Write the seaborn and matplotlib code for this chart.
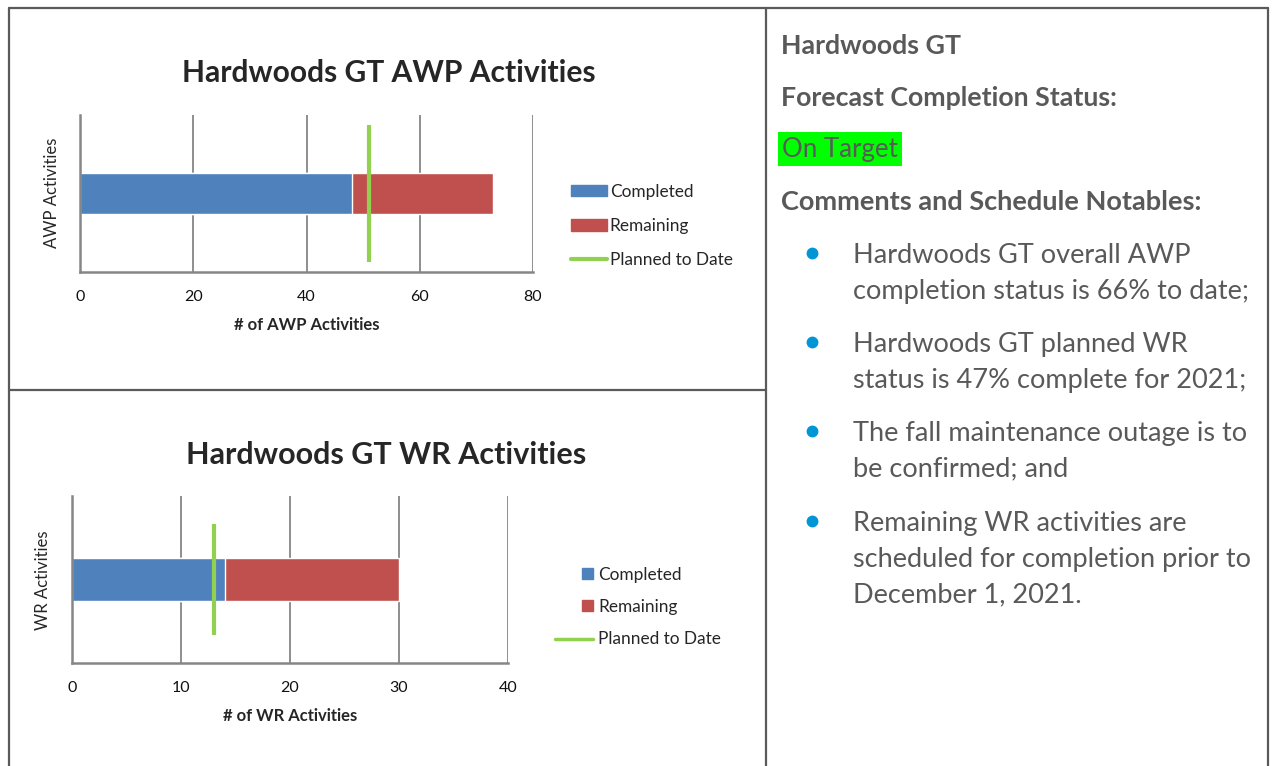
import pandas as pd
import matplotlib
matplotlib.use('Agg')
import matplotlib.pyplot as plt
import seaborn as sns
from matplotlib.lines import Line2D
from matplotlib.patches import Patch, Rectangle
from matplotlib.legend_handler import HandlerPatch

# 数据
awp_category = ['AWP Activities']
awp_completed = [48]
awp_remaining = [25]
awp_planned = [51]

wr_category = ['WR Activities']
wr_completed = [14]
wr_remaining = [16]
wr_planned = [13]

awp_ticks = [0, 20, 40, 60, 80]
wr_ticks = [0, 10, 20, 30, 40]

series_labels = ['Completed', 'Remaining', 'Planned to Date']
bullets = [
    'Hardwoods GT overall AWP\ncompletion status is 66% to date;',
    'Hardwoods GT planned WR\nstatus is 47% complete for 2021;',
    'The fall maintenance outage is to\nbe confirmed; and',
    'Remaining WR activities are\nscheduled for completion prior to\nDecember 1, 2021.',
]

BLUE = '#4F81BD'
RED = '#C0504D'
GREEN = '#92D050'
GRID = '#868686'
BORDER = '#5A5A5A'
TEXT_GRAY = '#595959'

sns.set_style('white')
plt.rcParams['font.family'] = ['Lato', 'DejaVu Sans']

W, H = 1273, 766
fig = plt.figure(figsize=(W / 100, H / 100), dpi=100)


def px(x, y):
    return x / W, 1 - y / H


def stacked_chart(rect, category, completed, remaining, planned, ticks,
                  xlabel, line_half):
    ax = fig.add_axes(rect)
    df = pd.DataFrame({'cat': category,
                       'completed': completed,
                       'total': [c + r for c, r in zip(completed, remaining)]})
    sns.barplot(data=df, x='total', y='cat', orient='h', color=RED,
                saturation=1, width=0.51, ax=ax)
    sns.barplot(data=df, x='completed', y='cat', orient='h', color=BLUE,
                saturation=1, width=0.51, ax=ax)
    ax.vlines(planned, -line_half, line_half, color=GREEN, lw=3, zorder=5)
    ax.set_xlim(ticks[0], ticks[-1])
    ax.set_ylim(0.98, -0.98)
    ax.set_xticks(ticks)
    ax.set_yticks([])
    ax.grid(axis='x', color=GRID, lw=1.3)
    ax.set_axisbelow(True)
    for s in ['top', 'right']:
        ax.spines[s].set_visible(False)
    for s in ['left', 'bottom']:
        ax.spines[s].set_color(GRID)
        ax.spines[s].set_linewidth(1.8)
    ax.tick_params(axis='x', direction='out', length=5, width=1.3,
                   color=GRID, labelsize=11.5, pad=8, labelcolor='#111111')
    ax.set_xlabel(xlabel, fontsize=12, fontweight='bold', labelpad=9)
    ax.set_ylabel('')
    return ax


# 图例里的小方块靠右
def right_square(legend, orig_handle, xdescent, ydescent, width, height,
                 fontsize):
    s = height
    return Rectangle((width - s - xdescent, -ydescent), s, s)


# 上图
ax1 = stacked_chart([80 / W, 1 - 272 / H, 453 / W, 157 / H], awp_category,
                    awp_completed, awp_remaining, awp_planned, awp_ticks,
                    '# of AWP Activities', 0.85)
fig.text(*px(389, 73), 'Hardwoods GT AWP Activities', ha='center',
         va='center', fontsize=21.6, fontweight='bold')
fig.text(*px(52, 193), awp_category[0], rotation=90, ha='center',
         va='center', fontsize=12)
h1 = [Patch(color=BLUE), Patch(color=RED), Line2D([], [], color=GREEN, lw=3)]
fig.legend(h1, series_labels, loc='center left',
           bbox_to_anchor=px(571, 226), frameon=False, fontsize=12.4,
           handlelength=2.1, handleheight=0.62, handletextpad=0.15,
           labelspacing=1.05, borderaxespad=0, borderpad=0)

# 下图
ax2 = stacked_chart([72 / W, 1 - 663 / H, 436 / W, 167 / H], wr_category,
                    wr_completed, wr_remaining, wr_planned, wr_ticks,
                    '# of WR Activities', 0.65)
fig.text(*px(386, 455), 'Hardwoods GT WR Activities', ha='center',
         va='center', fontsize=22, fontweight='bold')
fig.text(*px(43, 580), wr_category[0], rotation=90, ha='center',
         va='center', fontsize=12)
h2 = [Patch(color=BLUE), Patch(color=RED), Line2D([], [], color=GREEN, lw=2.5)]
sq = HandlerPatch(patch_func=right_square)
fig.legend(h2, series_labels, loc='center left',
           bbox_to_anchor=px(555, 607), frameon=False, fontsize=12.4,
           handlelength=2.2, handleheight=0.6, handletextpad=0.3,
           labelspacing=0.95, borderaxespad=0, borderpad=0,
           handler_map={h2[0]: sq, h2[1]: sq})

# 表格边框
for xs, ys in [([9, 1268], [8, 8]), ([9, 9], [8, 766]),
               ([766, 766], [8, 766]), ([1268, 1268], [8, 766]),
               ([9, 766], [390, 390])]:
    fig.add_artist(Line2D([x / W for x in xs], [1 - y / H for y in ys],
                          color=BORDER, lw=1.6, transform=fig.transFigure))

# 右侧文字
fig.text(*px(781, 46), 'Hardwoods GT', ha='left', va='center',
         fontsize=19.3, fontweight='bold', color=TEXT_GRAY)
fig.text(*px(781, 98), 'Forecast Completion Status:', ha='left',
         va='center', fontsize=19.3, fontweight='bold', color=TEXT_GRAY)
fig.text(*px(782, 149), 'On Target', ha='left', va='center', fontsize=18.6,
         color=TEXT_GRAY,
         bbox=dict(facecolor='#00FF00', edgecolor='none',
                   boxstyle='square,pad=0.16'))
fig.text(*px(781, 202), 'Comments and Schedule Notables:', ha='left',
         va='center', fontsize=19.5, fontweight='bold', color=TEXT_GRAY)

bullet_y = [253, 342, 431, 521]
for y, txt in zip(bullet_y, bullets):
    fig.add_artist(Line2D([812 / W], [1 - y / H], marker='o', markersize=7.5,
                          color='#0096D6', transform=fig.transFigure))
    fig.text(*px(853, y - 10), txt, ha='left', va='top', fontsize=19.5,
             color=TEXT_GRAY, linespacing=1.53)

plt.savefig('out.png', dpi=100)
